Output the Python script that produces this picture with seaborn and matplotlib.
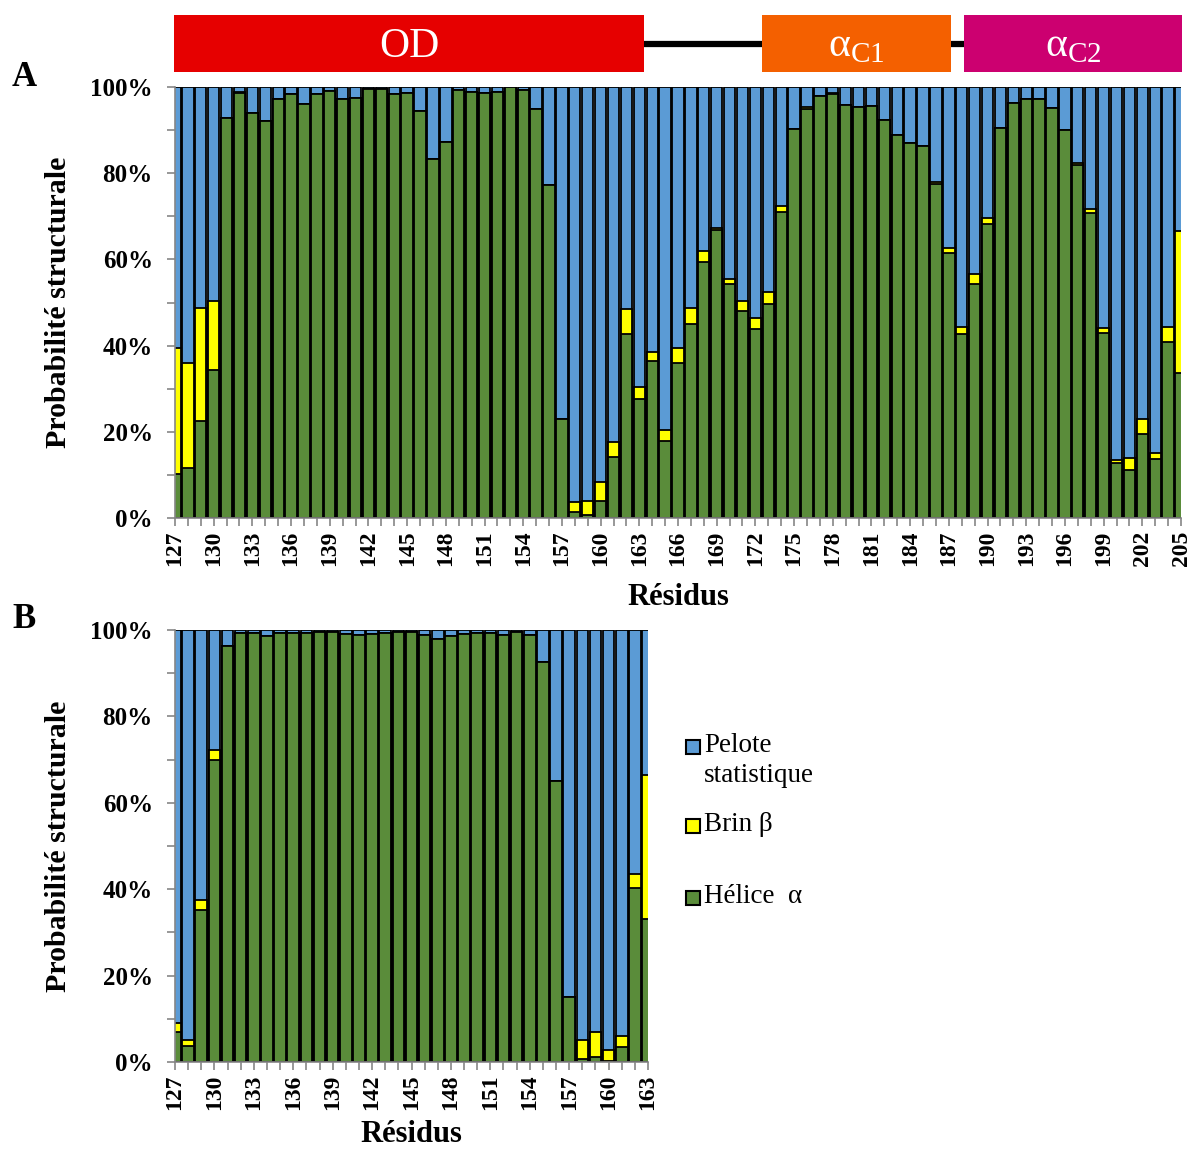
import matplotlib
matplotlib.use("Agg")
import matplotlib.pyplot as plt
from matplotlib.patches import Rectangle
import seaborn as sns
import numpy as np

# ── Data ──────────────────────────────────────────────────────
residues_a = list(range(127, 206))
helix_a = [10.1, 11.7, 22.6, 34.3, 92.7, 98.5, 93.9, 92.2, 97.2, 98.3,
           96.0, 98.3, 99.1, 97.2, 97.5, 99.5, 99.5, 98.3, 98.5, 94.4,
           83.4, 87.3, 99.3, 98.8, 98.5, 98.8, 99.9, 99.3, 94.9, 77.3,
           23.0, 1.5, 0.7, 4.0, 14.2, 42.7, 27.6, 36.4, 17.9, 35.9,
           45.0, 59.3, 66.8, 54.4, 48.1, 43.8, 49.6, 71.1, 90.3, 95.0,
           97.8, 98.3, 95.8, 95.4, 95.7, 92.3, 88.9, 86.9, 86.3, 77.6,
           61.4, 42.7, 54.3, 68.2, 90.6, 96.4, 97.1, 97.1, 95.2, 90.0,
           81.9, 70.7, 43.0, 12.7, 11.1, 19.5, 13.6, 40.9, 33.6]
strand_a = [29.4, 24.3, 26.1, 16.1, 0.0, 0.3, 0.0, 0.0, 0.0, 0.0,
            0.0, 0.0, 0.0, 0.0, 0.0, 0.0, 0.0, 0.0, 0.0, 0.0,
            0.0, 0.0, 0.0, 0.0, 0.0, 0.0, 0.0, 0.0, 0.0, 0.0,
            0.0, 2.1, 3.3, 4.3, 3.4, 5.8, 2.9, 2.0, 2.5, 3.5,
            3.8, 2.7, 0.6, 1.1, 2.2, 2.7, 2.8, 1.3, 0.0, 0.3,
            0.0, 0.3, 0.0, 0.0, 0.0, 0.0, 0.0, 0.0, 0.0, 0.3,
            1.2, 1.5, 2.3, 1.3, 0.0, 0.0, 0.0, 0.0, 0.0, 0.0,
            0.4, 1.0, 1.0, 0.8, 2.9, 3.5, 1.4, 3.3, 33.1]

residues_b = list(range(127, 164))
helix_b = [7.0, 3.8, 35.3, 70.0, 96.3, 99.4, 99.4, 98.7, 99.2, 99.4,
           99.4, 99.6, 99.6, 99.1, 98.8, 99.1, 99.4, 99.6, 99.6, 98.8,
           97.9, 98.6, 99.1, 99.4, 99.4, 98.8, 99.6, 98.8, 92.5, 65.1,
           15.0, 0.8, 1.1, 0.3, 3.4, 40.2, 33.1]
strand_b = [2.0, 1.4, 2.2, 2.2, 0.0, 0.0, 0.0, 0.0, 0.0, 0.0,
            0.0, 0.0, 0.0, 0.0, 0.0, 0.0, 0.0, 0.0, 0.0, 0.0,
            0.0, 0.0, 0.0, 0.0, 0.0, 0.0, 0.0, 0.0, 0.0, 0.0,
            0.0, 4.3, 5.9, 2.5, 2.6, 3.3, 33.3]

domain_names = ["OD", r"α$_{\mathrm{C1}}$", r"α$_{\mathrm{C2}}$"]
domain_start = [126.9, 172.5, 188.2]
domain_end = [163.4, 187.2, 205.1]

series_names = ["Pelote\nstatistique", "Brin β", "Hélice  α"]

COIL = "#5B9BD5"
STRAND = "#FFFF00"
HELIX = "#5A8C3A"
DOMAIN_COLORS = ["#E60000", "#F46000", "#CC0070"]
GREY = "#868686"

sns.set_theme(style="white")
plt.rcParams["font.family"] = ["Liberation Serif", "DejaVu Serif"]
plt.rcParams["mathtext.fontset"] = "custom"
plt.rcParams["mathtext.rm"] = "Liberation Serif"
plt.rcParams["text.color"] = "black"
plt.rcParams["axes.labelcolor"] = "black"
plt.rcParams["xtick.color"] = "black"
plt.rcParams["ytick.color"] = "black"

fig = plt.figure(figsize=(11.9, 11.51), dpi=100)
W, H = 1190, 1151


def px_axes(left, top, right, bottom):
    return fig.add_axes([left / W, 1 - bottom / H, (right - left) / W,
                         (bottom - top) / H])


# ── Stacked bars: total, strand+helix, helix drawn over each other ──
def stacked_panel(ax, residues, helix, strand, width_px, xpad):
    helix = np.array(helix)
    strand = np.array(strand)
    total = np.full(len(residues), 100.0)
    kw = dict(width=0.88, edgecolor="black", linewidth=1.3, saturation=1, ax=ax)
    sns.barplot(x=residues, y=total, color=COIL, **kw)
    sns.barplot(x=residues, y=helix + strand, color=STRAND, **kw)
    sns.barplot(x=residues, y=helix, color=HELIX, **kw)

    n = len(residues)
    ax.set_xlim(0, n - 1)
    ax.set_ylim(0, 100)
    ax.set_xticks(range(0, n, 3))
    ax.set_xticklabels([str(r) for r in residues[::3]], rotation=90,
                       fontsize=17, fontweight="bold")
    ax.set_xticks(range(n), minor=True)
    ax.set_yticks(range(0, 101, 20))
    ax.set_yticklabels([f"{v}%" for v in range(0, 101, 20)],
                       fontsize=18, fontweight="bold")
    ax.set_yticks(range(0, 101, 10), minor=True)
    ax.tick_params(which="both", direction="out", length=6, width=1.2,
                   color=GREY, labelcolor="black", bottom=True, left=True)
    ax.tick_params(axis="y", pad=10)
    ax.tick_params(axis="x", pad=3)
    for side in ["top", "right"]:
        ax.spines[side].set_visible(False)
    for side in ["left", "bottom"]:
        ax.spines[side].set_color(GREY)
        ax.spines[side].set_linewidth(1.2)
    ax.set_xlabel("Résidus", fontsize=22, fontweight="bold", labelpad=xpad)
    ax.set_ylabel("Probabilité structurale", fontsize=21.5, fontweight="bold")
    ax.yaxis.set_label_coords((72 - 175) / width_px, 0.5)


ax_a = px_axes(175, 87, 1181, 518)
stacked_panel(ax_a, residues_a, helix_a, strand_a, 1006, 12)
ax_b = px_axes(175, 630, 648, 1062)
stacked_panel(ax_b, residues_b, helix_b, strand_b, 473, 7)

# ── Domain map above panel A ───────────────────────────────────
ax_d = px_axes(175, 15, 1181, 72)
ax_d.set_xlim(127, 205)
ax_d.set_ylim(0, 1)
ax_d.axis("off")
ax_d.plot([domain_end[0], domain_start[-1]], [0.5, 0.5], color="black",
          lw=4.5, zorder=1, clip_on=False)
for name, s, e, c in zip(domain_names, domain_start, domain_end, DOMAIN_COLORS):
    ax_d.add_patch(Rectangle((s, 0), e - s, 1, facecolor=c, edgecolor="none",
                             zorder=2, clip_on=False))
    ax_d.text((s + e) / 2, 0.45, name, color="white", fontsize=30,
              ha="center", va="center", zorder=3)

# ── Panel letters ──────────────────────────────────────────────
fig.text(12 / W, 1 - 77 / H, "A", fontsize=25, fontweight="bold", va="center")
fig.text(12 / W, 1 - 620 / H, "B", fontsize=25, fontweight="bold", va="center")

# ── Legend (hand-placed like the original) ─────────────────────
legend_rows = [747, 826, 898]
for name, color, yc in zip(series_names, [COIL, STRAND, HELIX], legend_rows):
    fig.patches.append(Rectangle((686 / W, 1 - (yc + 7) / H), 14 / W, 14 / H,
                                 facecolor=color, edgecolor="black", lw=1.5,
                                 transform=fig.transFigure, figure=fig))
    fig.text(704 / W, 1 - (yc - 14) / H, name, fontsize=19.5, va="top",
             ha="left", linespacing=1.25)

fig.savefig("out.png", dpi=100)
